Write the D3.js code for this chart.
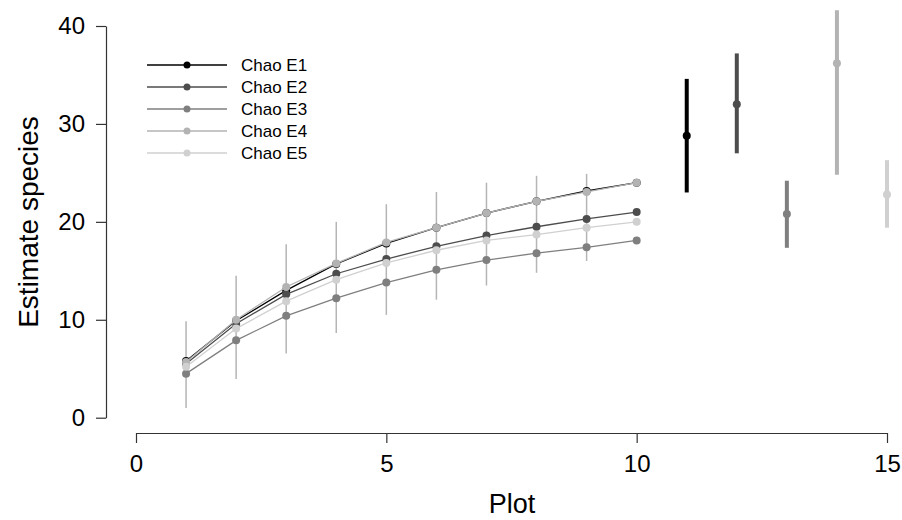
<!DOCTYPE html>
<html>
<head>
<meta charset="utf-8">
<script src="https://cdn.jsdelivr.net/npm/d3@7"></script>
<style>
  body { margin: 0; background: #fff; }
  text { font-family: "Liberation Sans", Arial, sans-serif; }
</style>
</head>
<body>
<div id="chart"></div>
<script>
// accumulation curves, plots 1..10
var plots = [1, 2, 3, 4, 5, 6, 7, 8, 9, 10];
var seriesNames = ["Chao E1", "Chao E2", "Chao E3", "Chao E4", "Chao E5"];
var seriesColors = ["#000000", "#4d4d4d", "#7f7f7f", "#b3b3b3", "#d0d0d0"];
var chaoE1 = [5.8, 9.9, 13.0, 15.7, 17.8, 19.4, 20.9, 22.1, 23.15, 24.0];
var chaoE2 = [5.5, 9.6, 12.6, 14.7, 16.2, 17.5, 18.6, 19.5, 20.3, 21.0];
var chaoE3 = [4.5, 7.9, 10.4, 12.2, 13.8, 15.1, 16.1, 16.8, 17.4, 18.1];
var chaoE4 = [5.7, 10.0, 13.35, 15.75, 17.9, 19.4, 20.9, 22.1, 23.05, 24.0];
var chaoE5 = [5.2, 9.1, 11.9, 14.1, 15.8, 17.1, 18.1, 18.7, 19.4, 20.0];
var ciLow = [1.0, 3.95, 6.55, 8.65, 10.5, 12.05, 13.5, 14.8, 16.0, 21.0];
var ciHigh = [9.85, 14.5, 17.7, 20.0, 21.8, 23.05, 24.0, 24.7, 24.9, 21.0];

// final estimates with intervals
var estX = [11, 12, 13, 14, 15];
var estMean = [28.8, 32.0, 20.8, 36.2, 22.8];
var estLow = [23.0, 27.0, 17.35, 24.8, 19.4];
var estHigh = [34.6, 37.2, 24.2, 41.6, 26.3];

var xTicks = [0, 5, 10, 15];
var yTicks = [0, 10, 20, 30, 40];

var width = 902, height = 520;

var svg = d3.select("#chart")
    .append("svg")
    .attr("width", width)
    .attr("height", height);

var x = d3.scaleLinear().domain([0, 15]).range([136, 887]);
var y = d3.scaleLinear().domain([0, 40]).range([417.7, 26]);

// axes, R style (line spans first..last tick)
var yAxis = svg.append("g")
    .attr("transform", "translate(106,0)")
    .call(d3.axisLeft(y).tickValues(yTicks).tickSize(10).tickPadding(8).tickSizeOuter(0));
var xAxis = svg.append("g")
    .attr("transform", "translate(0,433)")
    .call(d3.axisBottom(x).tickValues(xTicks).tickSize(10).tickPadding(8).tickSizeOuter(0));

[yAxis, xAxis].forEach(function (g) {
    g.select(".domain").attr("stroke", "#333").attr("stroke-width", 1.2);
    g.selectAll(".tick line").attr("stroke", "#333").attr("stroke-width", 1.2);
    g.selectAll("text")
        .style("font-family", "Liberation Sans, Arial, sans-serif")
        .style("font-size", "24px")
        .attr("fill", "#000");
});
yAxis.selectAll("text").attr("x", -21);
xAxis.selectAll("text").attr("y", 22);

svg.append("text")
    .attr("transform", "translate(38,222) rotate(-90)")
    .attr("text-anchor", "middle")
    .style("font-size", "28px")
    .text("Estimate species");

svg.append("text")
    .attr("x", 512)
    .attr("y", 513)
    .attr("text-anchor", "middle")
    .style("font-size", "27px")
    .text("Plot");

// confidence bars for the curves
svg.selectAll(".ci")
    .data(plots)
    .enter()
    .append("line")
    .attr("x1", function (d) { return x(d); })
    .attr("x2", function (d) { return x(d); })
    .attr("y1", function (d, i) { return y(ciLow[i]); })
    .attr("y2", function (d, i) { return y(ciHigh[i]); })
    .attr("stroke", "#b5b5b5")
    .attr("stroke-width", 1.5);

var allSeries = [chaoE1, chaoE2, chaoE3, chaoE4, chaoE5];

var line = d3.line()
    .x(function (d, i) { return x(plots[i]); })
    .y(function (d) { return y(d); });

allSeries.forEach(function (vals, s) {
    svg.append("path")
        .datum(vals)
        .attr("d", line)
        .attr("fill", "none")
        .attr("stroke", seriesColors[s])
        .attr("stroke-width", 1.3);
    svg.selectAll(".pt" + s)
        .data(vals)
        .enter()
        .append("circle")
        .attr("cx", function (d, i) { return x(plots[i]); })
        .attr("cy", function (d) { return y(d); })
        .attr("r", 4)
        .attr("fill", seriesColors[s]);
});

// estimates on the right
svg.selectAll(".est")
    .data(estX)
    .enter()
    .append("line")
    .attr("x1", function (d) { return x(d); })
    .attr("x2", function (d) { return x(d); })
    .attr("y1", function (d, i) { return y(estLow[i]); })
    .attr("y2", function (d, i) { return y(estHigh[i]); })
    .attr("stroke", function (d, i) { return seriesColors[i]; })
    .attr("stroke-width", 4);

svg.selectAll(".estpt")
    .data(estX)
    .enter()
    .append("circle")
    .attr("cx", function (d) { return x(d); })
    .attr("cy", function (d, i) { return y(estMean[i]); })
    .attr("r", 4)
    .attr("fill", function (d, i) { return seriesColors[i]; });

// legend
var legend = svg.append("g");
seriesNames.forEach(function (name, i) {
    var ly = 65 + i * 22;
    legend.append("line")
        .attr("x1", 147).attr("x2", 227)
        .attr("y1", ly).attr("y2", ly)
        .attr("stroke", seriesColors[i])
        .attr("stroke-width", 1.5);
    legend.append("circle")
        .attr("cx", 187).attr("cy", ly)
        .attr("r", 3.5)
        .attr("fill", seriesColors[i]);
    legend.append("text")
        .attr("x", 241)
        .attr("y", ly)
        .attr("dy", "0.35em")
        .style("font-size", "17px")
        .text(name);
});
</script>
</body>
</html>
